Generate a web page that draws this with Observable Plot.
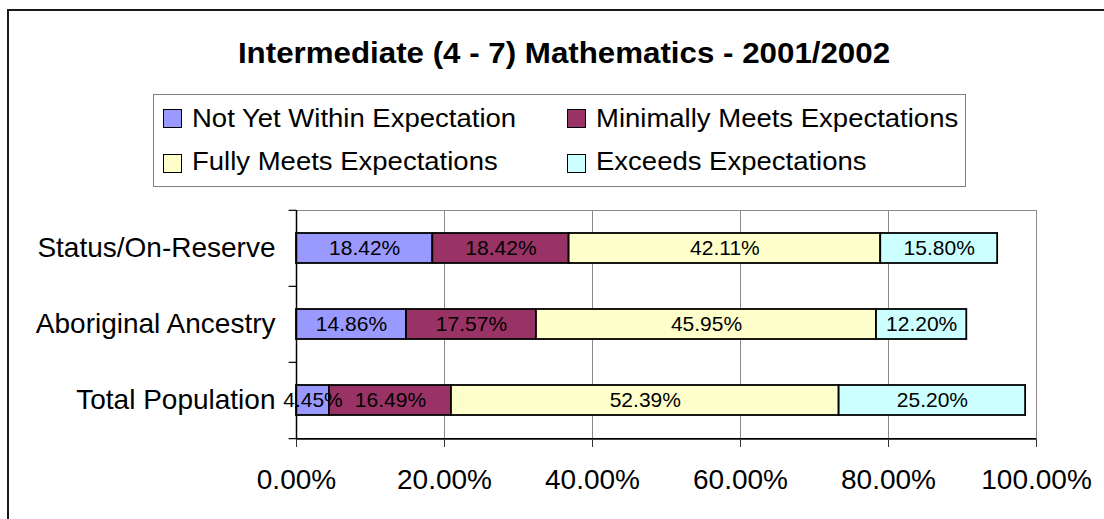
<!DOCTYPE html>
<html>
<head>
<meta charset="utf-8">
<script src="https://cdn.jsdelivr.net/npm/d3@7"></script>
<script src="https://cdn.jsdelivr.net/npm/@observablehq/plot@0.6"></script>
<style>
  html, body { margin: 0; padding: 0; background: #fff; overflow: hidden; }
  #wrap { position: relative; width: 1104px; height: 519px; overflow: hidden;
          font-family: 'Liberation Sans', Arial, Helvetica, sans-serif; color: #000; }
  #header { position: relative; width: 1104px; height: 200px; }
  #title { position: absolute; left: 564px; top: 38.8px; white-space: nowrap;
           font-weight: bold; font-size: 29px; line-height: 29px;
           transform: translateX(-50%) scaleX(1.079); transform-origin: center; }
  #legendBox { position: absolute; left: 153px; top: 94px; width: 813px; height: 93px;
               box-sizing: border-box; border: 1px solid #808080; }
  .sw { position: absolute; width: 19px; height: 19px; box-sizing: border-box; border: 1.5px solid #000; }
  .lt { position: absolute; white-space: nowrap; font-size: 25px; line-height: 25px;
        transform: scaleX(1.1); transform-origin: left center; }
  #chart { position: relative; width: 1104px; height: 319px; }
  #frame { position: absolute; left: 7px; top: 9px; width: 1300px; height: 800px;
           border: 2px solid #1a1a1a; pointer-events: none; }
</style>
</head>
<body>
<div id="wrap">
  <div id="header">
    <div id="title"></div>
    <div id="legendBox"></div>
  </div>
  <div id="chart"></div>
  <div id="frame"></div>
</div>
<script>
const titleText = "Intermediate (4 - 7) Mathematics - 2001/2002";
const categories = ["Status/On-Reserve", "Aboriginal Ancestry", "Total Population"];
const seriesNames = ["Not Yet Within Expectation", "Minimally Meets Expectations",
                     "Fully Meets Expectations", "Exceeds Expectations"];
const seriesColors = ["#9999FF", "#993366", "#FFFFCC", "#CCFFFF"];
const notYetWithin = [18.42, 14.86, 4.45];
const minimallyMeets = [18.42, 17.57, 16.49];
const fullyMeets = [42.11, 45.95, 52.39];
const exceeds = [15.80, 12.20, 25.20];
const xTicks = [0, 20, 40, 60, 80, 100];

// Title
document.getElementById("title").textContent = titleText;

// Legend (2 columns x 2 rows, reading order as in reference)
const header = document.getElementById("header");
const legendCols = [163, 567];   // swatch left positions
const legendRows = [109, 154];   // swatch top positions
const legendTextTop = [105.5, 148.8];
seriesNames.forEach((name, i) => {
  const col = i % 2, row = Math.floor(i / 2);
  const sw = document.createElement("div");
  sw.className = "sw";
  sw.style.left = legendCols[col] + "px";
  sw.style.top = legendRows[row] + "px";
  sw.style.background = seriesColors[i];
  header.appendChild(sw);
  const t = document.createElement("div");
  t.className = "lt";
  t.style.left = (legendCols[col] + 28.5) + "px";
  t.style.top = legendTextTop[row] + "px";
  t.textContent = name;
  header.appendChild(t);
});

// Data table
const seriesValues = [notYetWithin, minimallyMeets, fullyMeets, exceeds];
const rows = [];
categories.forEach((c, i) => {
  seriesNames.forEach((s, j) => rows.push({category: c, series: s, value: seriesValues[j][i]}));
});

const W = 1104, H = 319, mt = 10, mb = 80, ml = 296, mr = 68;
const step = (H - mt - mb) / categories.length;
const half = step / 2;
const gray = "#8a8a8a";
const last = categories[categories.length - 1];
const pct = d => d.toFixed(2) + "%";

const chart = Plot.plot({
  width: W, height: H,
  marginTop: mt, marginBottom: mb, marginLeft: ml, marginRight: mr,
  style: {fontFamily: "'Liberation Sans', Arial, Helvetica, sans-serif", fontSize: "28px",
          color: "#000", background: "transparent", overflow: "visible"},
  x: {domain: [0, 100], ticks: xTicks, tickFormat: pct, label: null},
  y: {domain: categories, paddingInner: 0.6, paddingOuter: 0.3, label: null},
  color: {domain: seriesNames, range: seriesColors},
  marks: [
    Plot.frame({stroke: gray}),
    Plot.gridX(xTicks.slice(1, -1), {stroke: gray, strokeOpacity: 1}),
    Plot.barX(rows, Plot.stackX({x: "value", y: "category", fill: "series", order: seriesNames,
                                 stroke: "#000", strokeWidth: 1.8})),
    Plot.text(rows, Plot.stackX({x: "value", y: "category", z: "series", order: seriesNames,
                                 text: d => pct(d.value), fontSize: 21, fill: "#000"})),
    Plot.ruleX([0], {stroke: "#000", strokeWidth: 1.5}),
    Plot.ruleY([last], {x1: 0, x2: 100, dy: half, stroke: "#000", strokeWidth: 1.5}),
    Plot.ruleY(categories, {x1: -1, x2: 0, dy: -half, stroke: "#000", strokeWidth: 1.2}),
    Plot.ruleY([last], {x1: -1, x2: 0, dy: half, stroke: "#000", strokeWidth: 1.2}),
    Plot.axisY({tickSize: 0, tickPadding: 21, fontSize: 28, label: null}),
    Plot.axisX({ticks: xTicks, tickFormat: pct, tickSize: 8, tickPadding: 22, fontSize: 28,
                stroke: "#333", label: null})
  ]
});
document.getElementById("chart").appendChild(chart);
</script>
</body>
</html>
